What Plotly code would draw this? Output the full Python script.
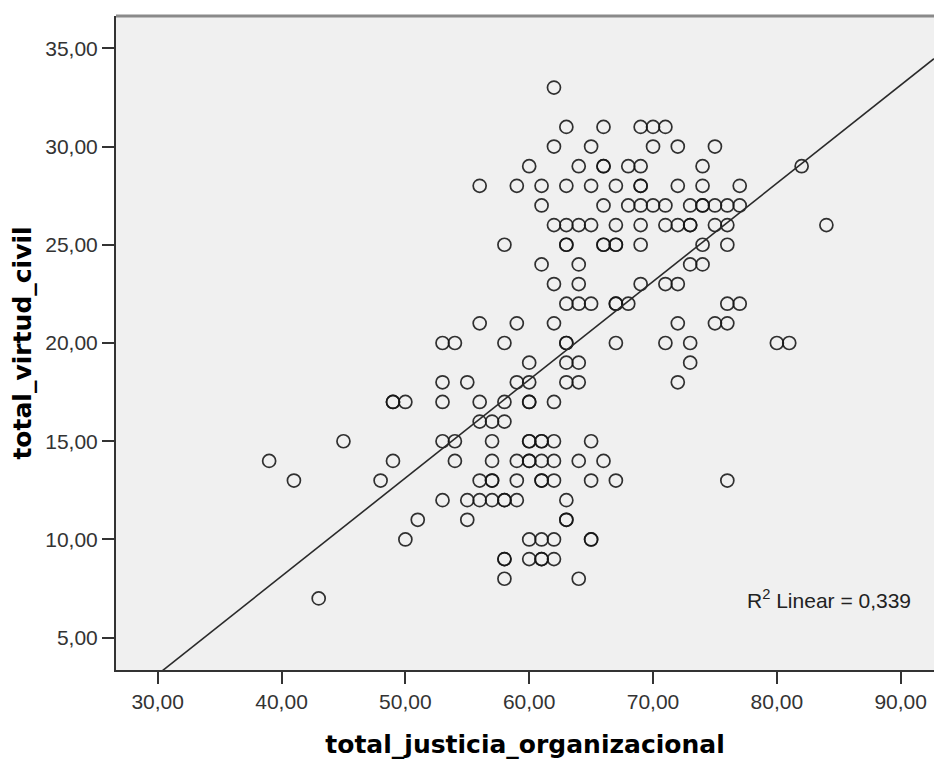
import plotly.graph_objects as go

# ---- data (x = total_justicia_organizacional, y = total_virtud_civil)
rows_y = [33, 31, 30, 29, 28, 27, 26, 25, 24, 23, 22, 21, 20, 19, 18, 17, 16, 15, 14, 13, 12, 11, 10, 9, 8, 7]
row_33 = [62]
row_31 = [63, 66, 69, 70, 71]
row_30 = [62, 65, 70, 72, 75]
row_29 = [60, 64, 66, 66, 68, 69, 74, 82]
row_28 = [56, 59, 61, 63, 65, 67, 69, 69, 72, 74, 77]
row_27 = [61, 66, 68, 69, 70, 71, 73, 74, 74, 75, 76, 77]
row_26 = [62, 63, 64, 65, 67, 69, 71, 72, 73, 73, 75, 76, 84]
row_25 = [58, 63, 63, 66, 66, 67, 67, 69, 74, 76]
row_24 = [61, 64, 73, 74]
row_23 = [62, 64, 69, 71, 72]
row_22 = [63, 64, 65, 67, 67, 68, 76, 77]
row_21 = [56, 59, 62, 72, 75, 76]
row_20 = [53, 54, 58, 63, 63, 67, 71, 73, 80, 81]
row_19 = [60, 63, 64, 73]
row_18 = [53, 55, 59, 60, 63, 64, 72]
row_17 = [49, 49, 50, 53, 56, 58, 60, 60, 62]
row_16 = [56, 57, 58]
row_15 = [45, 53, 54, 57, 60, 60, 61, 61, 62, 65]
row_14 = [39, 49, 54, 57, 59, 60, 60, 61, 62, 64, 66]
row_13 = [41, 48, 56, 57, 57, 59, 61, 61, 62, 65, 67, 76]
row_12 = [53, 55, 56, 57, 58, 58, 59, 63]
row_11 = [51, 55, 63, 63]
row_10 = [50, 60, 61, 62, 65, 65]
row_9 = [58, 58, 60, 61, 61, 62]
row_8 = [58, 64]
row_7 = [43]

rows_x = [row_33, row_31, row_30, row_29, row_28, row_27, row_26, row_25, row_24,
          row_23, row_22, row_21, row_20, row_19, row_18, row_17, row_16, row_15,
          row_14, row_13, row_12, row_11, row_10, row_9, row_8, row_7]

x_just = []
y_virt = []
for yv, xs in zip(rows_y, rows_x):
    for xv in xs:
        x_just.append(xv)
        y_virt.append(yv)

# linear fit shown in the reference
fit_intercept = -11.87
fit_slope = 0.50
r2_text = "R<sup>2</sup> Linear = 0,339"

x_ticks = [30, 40, 50, 60, 70, 80, 90]
y_ticks = [5, 10, 15, 20, 25, 30, 35]
x_range = [26.632, 92.69]
y_range = [3.356, 36.644]

fig = go.Figure()
fig.add_trace(go.Scatter(
    x=x_just, y=y_virt, mode="markers",
    marker=dict(symbol="circle-open", size=13, color="rgba(20,20,20,0.88)",
                line=dict(width=1.7)),
    hoverinfo="x+y",
))
fit_x = list(x_range)
fit_y = [fit_intercept + fit_slope * v for v in fit_x]
fig.add_trace(go.Scatter(
    x=fit_x, y=fit_y, mode="lines",
    line=dict(color="#2a2a2a", width=1.6),
    hoverinfo="skip",
))

fig.add_annotation(
    x=91.0, y=6.96, xref="x", yref="y", text=r2_text, showarrow=False,
    xanchor="right", yanchor="middle",
    font=dict(family="Liberation Sans, Arial, sans-serif", size=21, color="#222"),
)

fig.add_shape(type="line", xref="paper", yref="paper", x0=0, x1=1, y0=1, y1=1,
              line=dict(color="#8a8a8a", width=3), layer="above")

fig.update_layout(
    width=934, height=760,
    margin=dict(l=116, r=0, t=16, b=90),
    paper_bgcolor="white", plot_bgcolor="#f0f0f0",
    showlegend=False,
    separators=",.",
    font=dict(family="Liberation Sans, Arial, sans-serif", size=21, color="#333"),
)
fig.update_xaxes(
    range=x_range, tickvals=x_ticks, tickformat=".2f",
    ticks="outside", ticklen=12, tickwidth=2, tickcolor="#333",
    showline=True, linecolor="#333", linewidth=2,
    showgrid=False, zeroline=False,
    tickfont=dict(size=21, color="#333"),
    title=dict(text="total_justicia_organizacional", standoff=23,
               font=dict(family="DejaVu Sans, sans-serif", size=25, color="black", weight="bold")),
)
fig.update_yaxes(
    range=y_range, tickvals=y_ticks, tickformat=".2f",
    ticks="outside", ticklen=12, tickwidth=2, tickcolor="#333",
    showline=True, linecolor="#333", linewidth=2,
    showgrid=False, zeroline=False,
    tickfont=dict(size=21, color="#333"),
    title=dict(text="total_virtud_civil", standoff=6,
               font=dict(family="DejaVu Sans, sans-serif", size=25, color="black", weight="bold")),
)

fig.write_html("out.html")
